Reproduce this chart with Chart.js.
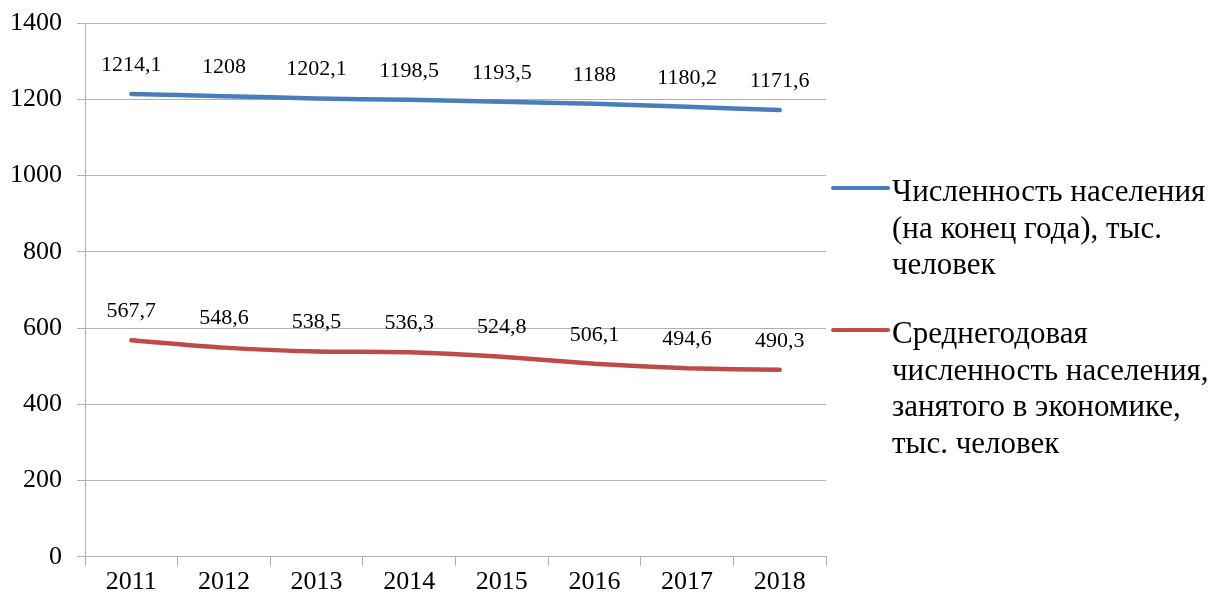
<!DOCTYPE html>
<html lang="ru">
<head>
<meta charset="utf-8">
<title>Численность населения</title>
<script src="https://cdn.jsdelivr.net/npm/chart.js@4/dist/chart.umd.min.js"></script>
<style>
  html, body { margin: 0; padding: 0; background: #fff; }
  #wrap { position: relative; width: 1216px; height: 599px; }
</style>
</head>
<body>
<div id="wrap"><canvas id="chart" width="1216" height="599"></canvas></div>
<script>
// Данные
const years = ['2011', '2012', '2013', '2014', '2015', '2016', '2017', '2018'];
const population = [1214.1, 1208, 1202.1, 1198.5, 1193.5, 1188, 1180.2, 1171.6];
const employed = [567.7, 548.6, 538.5, 536.3, 524.8, 506.1, 494.6, 490.3];
const yTicks = [0, 200, 400, 600, 800, 1000, 1200, 1400];

// Подписи легенды, разбитые по строкам
const populationLegend = ['Численность населения', '(на конец года), тыс.', 'человек'];
const employedLegend = ['Среднегодовая', 'численность населения,', 'занятого в экономике,', 'тыс. человек'];

const FONT = "'Liberation Serif', 'Times New Roman', serif";
const BLUE = '#4a7ebb';
const RED = '#be4b48';
const GRID = '#b0b0b0';

// подписи значений над точками
const valueLabels = {
    id: 'valueLabels',
    afterDatasetsDraw(chart) {
        const ctx = chart.ctx;
        ctx.save();
        ctx.font = '22px ' + FONT;
        ctx.fillStyle = '#000';
        ctx.textAlign = 'center';
        ctx.textBaseline = 'middle';
        chart.data.datasets.forEach((ds, i) => {
            chart.getDatasetMeta(i).data.forEach((pt, j) => {
                const txt = String(ds.data[j]).replace('.', ',');
                ctx.fillText(txt, pt.x, pt.y - 29);
            });
        });
        ctx.restore();
    }
};

// легенда справа с переносом строк
const sideLegend = {
    id: 'sideLegend',
    afterDraw(chart) {
        const ctx = chart.ctx;
        const x0 = chart.chartArea.right + 7;
        const items = [
            { lines: populationLegend, color: BLUE, y: 188 },
            { lines: employedLegend, color: RED, y: 330 }
        ];
        ctx.save();
        items.forEach(it => {
            ctx.strokeStyle = it.color;
            ctx.lineWidth = 4;
            ctx.lineCap = 'round';
            ctx.beginPath();
            ctx.moveTo(x0, it.y);
            ctx.lineTo(x0 + 55, it.y);
            ctx.stroke();

            ctx.font = '31px ' + FONT;
            ctx.fillStyle = '#000';
            ctx.textAlign = 'left';
            ctx.textBaseline = 'alphabetic';
            it.lines.forEach((line, k) => {
                ctx.fillText(line, x0 + 59, it.y + 13 + k * 36.5);
            });
        });
        ctx.restore();
    }
};

new Chart(document.getElementById('chart'), {
    type: 'line',
    data: {
        labels: years,
        datasets: [
            {
                label: populationLegend.join(' '),
                data: population,
                borderColor: BLUE,
                backgroundColor: BLUE,
                borderWidth: 4.5,
                borderCapStyle: 'round',
                pointRadius: 0,
                tension: 0.2
            },
            {
                label: employedLegend.join(' '),
                data: employed,
                borderColor: RED,
                backgroundColor: RED,
                borderWidth: 4.5,
                borderCapStyle: 'round',
                pointRadius: 0,
                tension: 0.2
            }
        ]
    },
    options: {
        responsive: false,
        animation: false,
        layout: { padding: { left: 10, right: 390, top: 23, bottom: 0 } },
        plugins: {
            legend: { display: false },
            tooltip: { enabled: false }
        },
        scales: {
            x: {
                offset: true,
                grid: {
                    offset: true,
                    drawOnChartArea: false,
                    drawTicks: true,
                    tickLength: 9,
                    color: GRID
                },
                border: { color: GRID },
                ticks: {
                    color: '#000',
                    font: { family: FONT, size: 26 },
                    padding: 1,
                    maxRotation: 0
                }
            },
            y: {
                min: 0,
                max: 1400,
                afterBuildTicks(scale) {
                    scale.ticks = yTicks.map(v => ({ value: v }));
                },
                afterFit(scale) {
                    // ширина оси и без лишних отступов сверху/снизу
                    scale.width = 75;
                    scale.paddingTop = 0;
                    scale.paddingBottom = 0;
                },
                grid: {
                    color: GRID,
                    tickLength: 8
                },
                border: { color: GRID },
                ticks: {
                    color: '#000',
                    font: { family: FONT, size: 26 },
                    padding: 15,
                    callback: v => String(v)
                }
            }
        }
    },
    plugins: [valueLabels, sideLegend]
});
</script>
</body>
</html>
